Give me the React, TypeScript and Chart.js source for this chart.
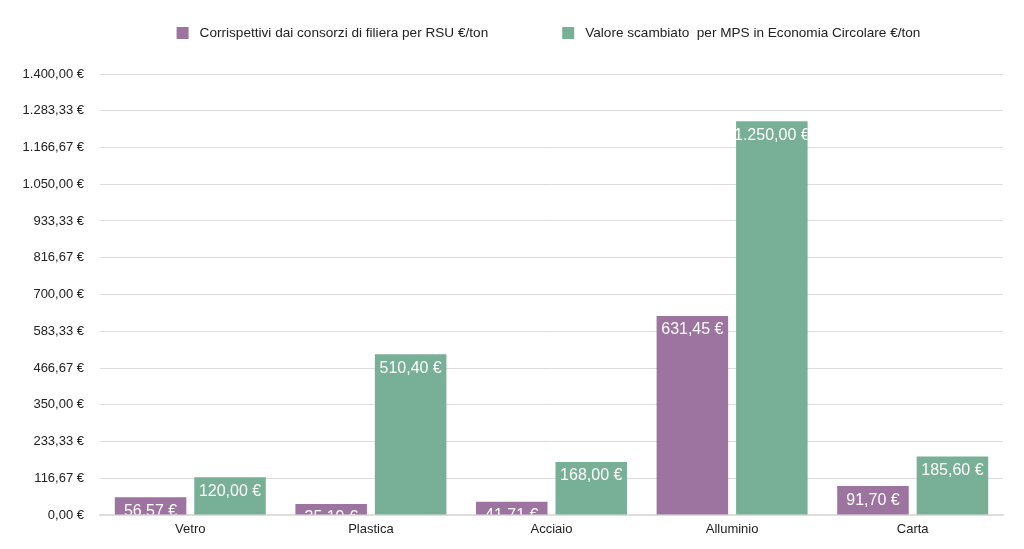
import React, { useEffect, useRef } from "react";
import { Chart, registerables } from "chart.js";

Chart.register(...registerables);

const categories = ["Vetro", "Plastica", "Acciaio", "Alluminio", "Carta"];
const seriesNames = [
  "Corrispettivi dai consorzi di filiera per RSU €/ton",
  "Valore scambiato  per MPS in Economia Circolare €/ton",
];
const corrispettivi = [56.57, 35.19, 41.71, 631.45, 91.7];
const valoreScambiato = [120.0, 510.4, 168.0, 1250.0, 185.6];
const seriesColors = ["#9d739f", "#78b097"];
const yMax = 1400;
const yStep = 1400 / 12;

const FONT = "'Liberation Sans', Arial, Helvetica, sans-serif";

function fmtEuro(v: number): string {
  const fixed = Math.abs(v).toFixed(2);
  const [intPart, dec] = fixed.split(".");
  const grouped = intPart.replace(/\B(?=(\d{3})+(?!\d))/g, ".");
  return (v < 0 ? "-" : "") + grouped + "," + dec + " €";
}

const barLabelPlugin = {
  id: "barLabels",
  afterDatasetsDraw(chart: any) {
    const ctx = chart.ctx;
    chart.data.datasets.forEach((ds: any, di: number) => {
      const meta = chart.getDatasetMeta(di);
      meta.data.forEach((bar: any, i: number) => {
        const v = ds.data[i];
        const left = bar.x - bar.width / 2;
        const top = bar.y;
        const h = bar.base - bar.y;
        ctx.save();
        ctx.beginPath();
        ctx.rect(left, top, bar.width, h);
        ctx.clip();
        ctx.fillStyle = "#ffffff";
        ctx.font = `16px ${FONT}`;
        ctx.textAlign = "center";
        ctx.textBaseline = "top";
        ctx.fillText(fmtEuro(v), bar.x, top + 6);
        ctx.restore();
      });
    });
  },
};

const legendPlugin = {
  id: "customLegend",
  afterDraw(chart: any) {
    const ctx = chart.ctx;
    const area = chart.chartArea;
    ctx.save();
    ctx.font = `13.6px ${FONT}`;
    const box = 12;
    const gapText = 11;
    const gapItems = 74;
    const widths = seriesNames.map((n) => box + gapText + ctx.measureText(n).width);
    const total = widths[0] + gapItems + widths[1];
    let x = (area.left + area.right) / 2 - 3 - total / 2;
    const y = 33;
    seriesNames.forEach((n, i) => {
      ctx.fillStyle = seriesColors[i];
      ctx.fillRect(x, y - box / 2, box, box);
      ctx.fillStyle = "#222222";
      ctx.textAlign = "left";
      ctx.textBaseline = "middle";
      ctx.fillText(n, x + box + gapText, y);
      x += widths[i] + gapItems;
    });
    ctx.restore();
  },
};

export default function App() {
  const ref = useRef<HTMLCanvasElement | null>(null);

  useEffect(() => {
    if (!ref.current) return;
    const chart = new Chart(ref.current, {
      type: "bar",
      data: {
        labels: categories,
        datasets: [
          {
            label: seriesNames[0],
            data: corrispettivi,
            backgroundColor: seriesColors[0],
            barPercentage: 0.9,
            categoryPercentage: 0.88,
          },
          {
            label: seriesNames[1],
            data: valoreScambiato,
            backgroundColor: seriesColors[1],
            barPercentage: 0.9,
            categoryPercentage: 0.88,
          },
        ],
      },
      options: {
        responsive: false,
        animation: false,
        layout: { padding: { top: 74, right: 21, left: 0, bottom: 0 } },
        plugins: {
          legend: { display: false },
          tooltip: { enabled: false },
        },
        scales: {
          x: {
            grid: { display: false, drawTicks: false },
            border: { display: true, color: "#dedede", width: 2 },
            ticks: {
              color: "#222222",
              font: { family: FONT, size: 13 },
              padding: 7,
            },
            afterFit: (s: any) => {
              s.height = 34;
            },
          },
          y: {
            min: 0,
            max: yMax,
            grid: { color: "#dcdcdc", lineWidth: 1, drawTicks: false },
            border: { display: false },
            ticks: {
              stepSize: yStep,
              color: "#222222",
              font: { family: FONT, size: 13 },
              padding: 16,
              callback: (v: any) => fmtEuro(Number(v)),
            },
            afterFit: (s: any) => {
              s.width = 100;
            },
          },
        },
      },
      plugins: [barLabelPlugin, legendPlugin],
    });
    return () => chart.destroy();
  }, []);

  return (
    <div style={{ position: "absolute", left: 0, top: 0, width: 1024, height: 549, background: "#fff" }}>
      <canvas ref={ref} width={1024} height={549} style={{ display: "block" }} />
    </div>
  );
}
